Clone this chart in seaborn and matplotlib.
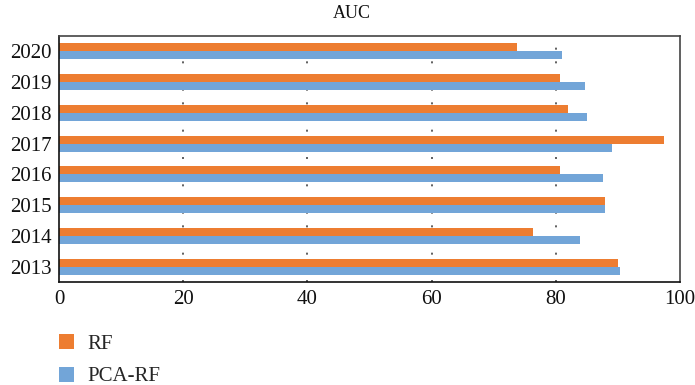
import pandas as pd
import matplotlib.pyplot as plt
import seaborn as sns

# values
years = ["2020", "2019", "2018", "2017", "2016", "2015", "2014", "2013"]
rf = [73.8, 80.7, 82.0, 97.4, 80.7, 87.9, 76.3, 90.0]
pca_rf = [81.0, 84.7, 85.0, 89.0, 87.6, 87.9, 83.9, 90.3]
models = ["RF", "PCA-RF"]
colors = ["#ED7D31", "#72A5D8"]

df = pd.DataFrame({
    "year": years * 2,
    "auc": rf + pca_rf,
    "model": ["RF"] * len(years) + ["PCA-RF"] * len(years),
})

sns.set_style("white")
plt.rcParams["font.family"] = ["Liberation Serif", "DejaVu Serif"]

fig = plt.figure(figsize=(6.95, 3.85), dpi=100)
ax = fig.add_axes([59 / 695, 1 - 282 / 385, 621 / 695, 246 / 385])

for x in [20, 40, 60, 80]:
    ax.axvline(x, color="#444444", lw=1.2, ls=(0, (1.2, 7)), zorder=0)

sns.barplot(data=df, y="year", x="auc", hue="model", order=years,
            hue_order=models, palette=colors, width=0.52, saturation=1,
            linewidth=0, orient="h", ax=ax, legend=True, zorder=2)

ax.set_xlim(0, 100)
ax.set_xticks([0, 20, 40, 60, 80, 100])
ax.set_xlabel("")
ax.set_ylabel("")
ax.tick_params(axis="both", length=0, labelsize=15, colors="#111111")
ax.tick_params(axis="x", pad=6)
ax.tick_params(axis="y", pad=5)
for side in ["left", "bottom"]:
    ax.spines[side].set_color("#111111")
    ax.spines[side].set_linewidth(1.2)
for side in ["top", "right"]:
    ax.spines[side].set_color("#444444")
    ax.spines[side].set_linewidth(1.2)

handles, labels = ax.get_legend_handles_labels()
ax.get_legend().remove()
fig.legend(handles, labels, loc="upper left",
           bbox_to_anchor=(40 / 695, 1 - 315 / 385), frameon=False,
           fontsize=15, handlelength=0.75, handleheight=0.75,
           handletextpad=0.6, labelspacing=0.62)

fig.text(352 / 695, 1 - 14 / 385, "AUC", ha="center", va="center",
         fontsize=13, color="#111111")

plt.savefig("out.png", dpi=100)
